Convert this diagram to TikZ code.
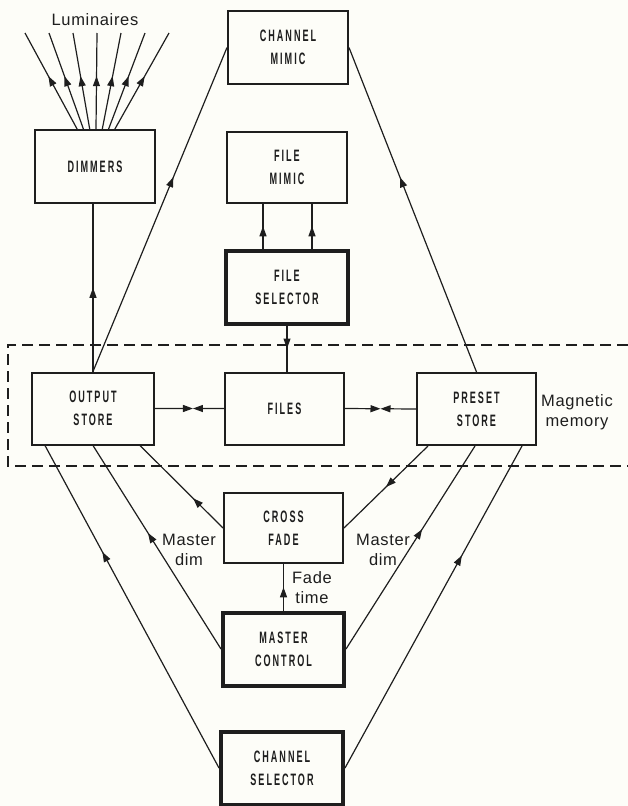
\documentclass[tikz,border=0pt]{standalone}
\usepackage{fontspec}
\setmainfont{Liberation Sans}
\newfontfamily\boxfont[FakeStretch=0.55,LetterSpace=12]{Liberation Sans}
\newfontfamily\lblfont[LetterSpace=4]{Liberation Sans}
\usetikzlibrary{arrows.meta,decorations.markings,calc}
\definecolor{ink}{RGB}{30,30,30}
\definecolor{paper}{RGB}{253,253,248}
\tikzset{
  unit/.style={draw=ink, line width=2pt, minimum width=120pt, minimum height=72pt,
    align=center, text=ink, inner sep=0pt,
    font=\boxfont\bfseries\fontsize{16.5}{23}\selectfont},
  heavyunit/.style={unit, line width=4pt},
  conn/.style={draw=ink, line width=1.2pt},
  midarrow/.style={conn, postaction={decorate},
    decoration={markings, mark=at position #1 with {\arrow{Triangle[length=10pt,width=7pt]}}}},
  midarrow/.default=0.5,
  endarrow/.style={conn, -{Triangle[length=10pt,width=7pt]}},
  lbl/.style={font=\lblfont\fontsize{16.5}{20}\selectfont, align=center, inner sep=0pt, text=ink},
  memline/.style={draw=ink, line width=1.5pt, dash pattern=on 11pt off 6pt}
}
\begin{document}
\begin{tikzpicture}[x=1pt,y=-1pt]
\useasboundingbox[fill=paper] (0,0) rectangle (628,806);

% boxes
\node[unit, minimum width=120pt, minimum height=73pt] (dim) at (95,166.5) {DIMMERS};
\node[unit, minimum width=120pt, minimum height=73pt] (chm) at (288,47.5) {CHANNEL\\MIMIC};
\node[unit, minimum width=120pt, minimum height=71pt] (fm) at (287,167.5) {FILE\\MIMIC};
\node[heavyunit, minimum width=122pt, minimum height=73pt] (fs) at (287,287) {FILE\\SELECTOR};
\node[unit, minimum width=122pt, minimum height=72pt] (os) at (93,408.5) {OUTPUT\\STORE};
\node[unit, minimum width=119pt, minimum height=72pt] (files) at (284.5,408.5) {FILES};
\node[unit, minimum width=119pt, minimum height=72pt] (ps) at (476.5,409) {PRESET\\STORE};
\node[unit, minimum width=119pt, minimum height=70pt] (cf) at (283.5,528) {CROSS\\FADE};
\node[heavyunit, minimum width=121pt, minimum height=73pt] (mc) at (283.5,649) {MASTER\\CONTROL};
\node[heavyunit, minimum width=122pt, minimum height=73pt] (cs) at (282,768) {CHANNEL\\SELECTOR};

% magnetic memory region
\draw[memline] (628,345) -- (8,345) -- (8,466) -- (628,466);

% labels
\node[lbl] (lum) at (95,20) {Luminaires};
\node[lbl] (mag) at (577,412) {Magnetic\\memory};
\node[lbl] (mdl) at (189,550) {Master\\dim};
\node[lbl] (mdr) at (383,550) {Master\\dim};
\node[lbl] (ft) at (312,588) {Fade\\time};

% luminaire feeds
\foreach \k in {-3,...,3} {
  \coordinate (lum\k) at ({97+24*(\k)},33);
  \draw[midarrow=0.55] ($(dim.north)+({1+6.3*(\k)},0)$) -- (lum\k);
}

% output store to dimmers and channel mimic
\draw[midarrow] (os.north) -- (os.north |- dim.south);
\draw[midarrow=0.6] (os.north) -- (chm.west);
% preset store to channel mimic
\draw[midarrow=0.6] (ps.north) -- (chm.east);

% file selector
\draw[midarrow] ($(fs.north)+(-24,0)$) -- ($(fm.south)+(-24,0)$);
\draw[midarrow] ($(fs.north)+(25,0)$) -- ($(fm.south)+(25,0)$);
\draw[midarrow] (fs.south) -- (fs.south |- files.north);

% bow-tie links
\coordinate (bt1) at ($(os.east)!0.55!(files.west)$);
\draw[endarrow] (os.east) -- (bt1);
\draw[endarrow] (files.west) -- (bt1);
\coordinate (bt2) at ($(files.east)!0.5!(ps.west)$);
\draw[endarrow] (files.east) -- (bt2);
\draw[endarrow] (ps.west) -- (bt2);

% left fan
\draw[midarrow=0.67] (cs.west) -- ($(os.south)+(-48,0)$);
\draw[midarrow=0.57] (mc.west) -- (os.south);
\draw[midarrow=0.36] (cf.west) -- ($(os.south)+(47,0)$);
% right fan
\draw[midarrow=0.5] ($(ps.south)+(-48.5,0)$) -- (cf.east);
\draw[midarrow=0.59] (mc.east) -- ($(ps.south)+(-1.5,0)$);
\draw[midarrow=0.66] (cs.east) -- ($(ps.south)+(45.5,0)$);

% fade time
\draw[midarrow] (mc.north) -- (cf.south);
\end{tikzpicture}
\end{document}
